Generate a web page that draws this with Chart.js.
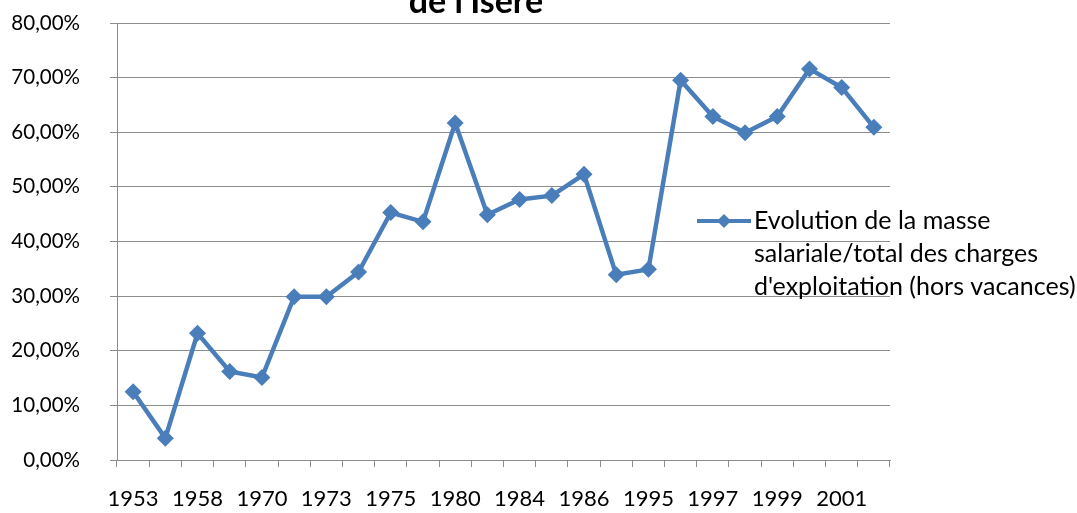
<!DOCTYPE html>
<html>
<head>
<meta charset="utf-8">
<script src="https://cdn.jsdelivr.net/npm/chart.js@4/dist/chart.umd.min.js"></script>
<style>
  html, body { margin: 0; padding: 0; background: #fff; }
  #wrap { width: 1077px; height: 513px; position: relative; }
</style>
</head>
<body>
<div id="wrap"><canvas id="mychart" width="1077" height="513"></canvas></div>
<script>
// annees (une etiquette sur deux est affichee)
var annees = ['1953', '1956', '1958', '1965', '1970', '1972', '1973', '1974', '1975', '1978', '1980', '1982',
              '1984', '1985', '1986', '1990', '1995', '1996', '1997', '1998', '1999', '2000', '2001', '2002'];
// masse salariale / total des charges, en %
var ratio = [12.5, 4.0, 23.2, 16.2, 15.1, 29.9, 29.9, 34.4, 45.3, 43.6, 61.7, 44.9,
             47.7, 48.4, 52.3, 33.9, 34.9, 69.5, 62.9, 59.9, 62.9, 71.6, 68.2, 60.9];
var serie = "Evolution de la masse salariale/total des charges d'exploitation (hors vacances)";
var legendeLignes = ['Evolution de la masse', 'salariale/total des charges', "d'exploitation (hors vacances)"];
var titre = "de l'Isère";

var bleu = '#4a7ebb';
var gris = '#8c8c8c';
var police = 'Lato, "Open Sans", sans-serif';

function pourcent(v) {
  return v.toFixed(2).replace('.', ',') + '%';
}

// titre (coupe en haut) + legende a droite
var decor = {
  id: 'decor',
  afterDraw: function(chart) {
    var ctx = chart.ctx;
    ctx.save();
    ctx.fillStyle = '#000';
    ctx.font = 'bold 34px ' + police;
    ctx.textAlign = 'center';
    ctx.textBaseline = 'alphabetic';
    ctx.fillText(titre, 476, 13);

    // legende
    var lx = 697, ly = 221;
    ctx.strokeStyle = bleu;
    ctx.lineWidth = 4;
    ctx.beginPath();
    ctx.moveTo(lx, ly);
    ctx.lineTo(lx + 54, ly);
    ctx.stroke();
    ctx.fillStyle = bleu;
    ctx.beginPath();
    ctx.moveTo(lx + 27, ly - 7);
    ctx.lineTo(lx + 34, ly);
    ctx.lineTo(lx + 27, ly + 7);
    ctx.lineTo(lx + 20, ly);
    ctx.closePath();
    ctx.fill();

    ctx.fillStyle = '#000';
    ctx.font = '25px ' + police;
    ctx.textAlign = 'left';
    ctx.textBaseline = 'middle';
    for (var i = 0; i < legendeLignes.length; i++) {
      ctx.fillText(legendeLignes[i], lx + 57, ly + i * 33);
    }
    ctx.restore();
  }
};

var grafica = new Chart(document.getElementById('mychart'), {
  type: 'line',
  data: {
    labels: annees,
    datasets: [{
      label: serie,
      data: ratio,
      borderColor: bleu,
      backgroundColor: bleu,
      borderWidth: 4.5,
      pointStyle: 'rectRot',
      pointRadius: 8.5,
      pointBorderWidth: 0,
      pointBackgroundColor: bleu,
      tension: 0
    }]
  },
  options: {
    responsive: false,
    animation: false,
    layout: { padding: { top: 23, right: 187, left: 0, bottom: 0 } },
    plugins: {
      legend: { display: false },
      title: { display: false },
      tooltip: { enabled: false }
    },
    scales: {
      x: {
        offset: true,
        grid: { offset: true, drawOnChartArea: false, drawTicks: true, tickLength: 7, color: gris, lineWidth: 1 },
        border: { display: true, color: gris, width: 1 },
        ticks: {
          autoSkip: false,
          maxRotation: 0,
          minRotation: 0,
          padding: 19,
          color: '#000',
          font: { family: police, size: 22 },
          callback: function(val, idx) { return idx % 2 === 0 ? this.getLabelForValue(val) : ''; }
        },
        afterFit: function(scale) { scale.height = 53; }
      },
      y: {
        min: 0,
        max: 80,
        grid: { color: gris, lineWidth: 1, tickLength: 7, drawTicks: true },
        border: { display: true, color: gris, width: 1 },
        ticks: {
          stepSize: 10,
          padding: 30,
          color: '#000',
          font: { family: police, size: 20.5 },
          callback: function(v) { return pourcent(v); }
        },
        afterFit: function(scale) {
          scale.width = 117;
          scale.paddingTop = 0;
          scale.paddingBottom = 0;
        }
      }
    }
  },
  plugins: [decor]
});
</script>
</body>
</html>
